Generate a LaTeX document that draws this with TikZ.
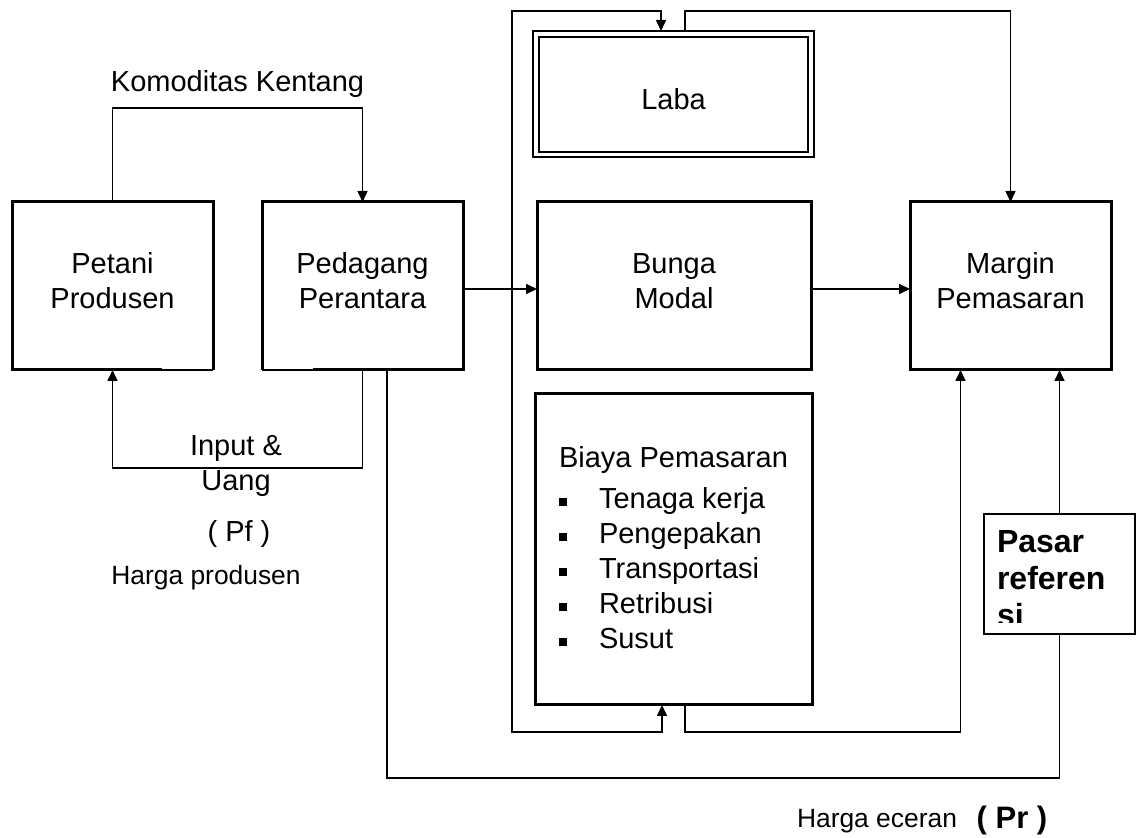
\documentclass[tikz,border=0pt]{standalone}
\usepackage{fontspec}
\setmainfont{Liberation Sans}
\usetikzlibrary{arrows.meta,calc}

% square bullet for the cost list
\newcommand\listbullet{\makebox[20pt][l]{\rule[1.4pt]{4pt}{4pt}}}

\tikzset{
  frame/.style={shape=rectangle, inner sep=0pt, outer sep=0pt},
  boxline/.style={line width=1.5pt, line join=miter},
  thinline/.style={line width=0.8pt, line join=miter},
  conn/.style={line width=0.8pt, line join=miter},
  tip/.tip={Triangle[length=5.5pt,width=5pt]},
  arr/.style={conn, -tip},
  txt/.style={inner sep=0pt, outer sep=0pt, align=center, font=\fontsize{14.5}{17.5}\selectfont},
  smalltxt/.style={inner sep=0pt, outer sep=0pt, font=\fontsize{13.2}{15.8}\selectfont},
  boldtxt/.style={inner sep=0pt, outer sep=0pt, font=\bfseries\fontsize{15.5}{18.5}\selectfont},
  pasartxt/.style={inner sep=0pt, outer sep=0pt, align=left, font=\bfseries\fontsize{16}{18.5}\selectfont},
}

\begin{document}
\begin{tikzpicture}[x=0.5pt,y=-0.5pt]
\useasboundingbox (0,0) rectangle (1140,838);

% ---- boxes ----
\node[frame, minimum width=100.5pt, minimum height=84pt] (petani) at (112.5,286) {};
\node[frame, minimum width=100.5pt, minimum height=84pt] (pedagang) at (362.5,286) {};
\node[frame, draw, boxline, minimum width=137pt, minimum height=84pt] (bunga) at (674,286) {};
\node[frame, draw, boxline, minimum width=100.5pt, minimum height=84pt] (margin) at (1010.5,286) {};
\node[frame, draw, boxline, minimum width=138.5pt, minimum height=155.5pt] (biaya) at (673.5,549.5) {};
\node[frame, draw, thinline, minimum width=75.5pt, minimum height=60pt] (pasar) at (1059.5,574) {};
\node[frame, minimum width=140.5pt, minimum height=63pt] (laba) at (673.5,94) {};

% producer box: thin stretch at the right of its bottom edge
\draw[boxline] ($(petani.south west)+(150,0)$) -- (petani.south west) -- (petani.north west)
  -- (petani.north east) -- (petani.south east);
\draw[thinline] (petani.south east) -- ($(petani.south west)+(150,0)$);

% trader box: thin stretch at the left of its bottom edge
\draw[boxline] ($(pedagang.south west)+(51,0)$) -- (pedagang.south east) -- (pedagang.north east)
  -- (pedagang.north west) -- (pedagang.south west);
\draw[thinline, yshift=0.5pt] (pedagang.south west) -- ($(pedagang.south west)+(51,0)$);

% profit box: double border
\draw[line width=0.7pt] (laba.north west) rectangle (laba.south east);
\draw[line width=1.3pt] (laba.north west) -- (laba.north east);
\draw[line width=0.7pt] ($(laba.north west)+(6,6)$) rectangle ($(laba.south east)+(-6,-5)$);
\draw[line width=1.3pt] ($(laba.south west)+(6,-5)$) -- ($(laba.south east)+(-6,-5)$);

% ---- texts ----
\node[txt] (petanitxt) at (112.5,281) {Petani\\Produsen};
\node[txt] (pedagangtxt) at (362.5,281) {Pedagang\\Perantara};
\node[txt] (bungatxt) at (674,281) {Bunga\\Modal};
\node[txt] (margintxt) at (1010.5,281) {Margin\\Pemasaran};
\node[txt, anchor=base] (labatxt) at (673.5,110) {Laba};
\node[txt, anchor=base] (biayatxt) at (673.5,468) {Biaya Pemasaran};
\node[txt, align=left, anchor=west] (biayalist) at (559,568.5)
  {\listbullet Tenaga kerja\\\listbullet Pengepakan\\\listbullet Transportasi\\\listbullet Retribusi\\\listbullet Susut};
\node[txt, anchor=base] (komoditas) at (237.5,92) {Komoditas Kentang};
\node[txt] (input) at (236,466) {Input \&\\Uang};
\node[txt, anchor=base] (pf) at (239,542) {( Pf )};
\node[smalltxt, anchor=base] (hprod) at (206,585) {Harga produsen};
\node[smalltxt, anchor=base] (hecer) at (877,827) {Harga eceran};
\node[boldtxt, anchor=base] (pr) at (1012,828) {( Pr )};

% reference-market label, cut off at the bottom of its box
\begin{scope}
  \clip (986,516) rectangle (1133,623);
  \node[pasartxt, anchor=north west] (pasarlbl) at (997,530) {Pasar\\referen\\si};
\end{scope}

% ---- connectors ----
% potatoes from farmer to trader
\draw[arr] (petani.north) -- ++(0,-94) -| (pedagang.north);
% inputs and money back to farmer
\draw[arr] (pedagang.south) -- ++(0,98) -| (petani.south);
% trader to capital interest, interest to margin
\draw[arr] ([yshift=-1.5pt]pedagang.east) -- ([yshift=-1.5pt]bunga.west);
\draw[arr] ([yshift=-1.5pt]bunga.east) -- ([yshift=-1.5pt]margin.west);
% outer loop feeding profit and marketing costs
\coordinate (loopNW) at (512,11);
\coordinate (loopSW) at (512,732);
\draw[conn, tip-tip]
  ($(laba.north)+(-12.5,0)$) |- (loopNW) -- (loopSW) -| ($(biaya.south)+(-11.5,0)$);
% profit to margin
\draw[arr] ($(laba.north)+(11.5,0)$) -- ++(0,-20) -| (margin.north);
% marketing costs to margin
\draw[arr] ($(biaya.south)+(11.5,0)$) -- ++(0,27) -| ($(margin.south)+(-50,0)$);
% reference market to margin
\draw[arr] (pasar.north) -- (pasar.north |- margin.south);
% retail price line from trader to reference market
\draw[conn] ($(pedagang.south)+(24.5,0)$) -- ++(0,408) -| (pasar.south);
\end{tikzpicture}
\end{document}
